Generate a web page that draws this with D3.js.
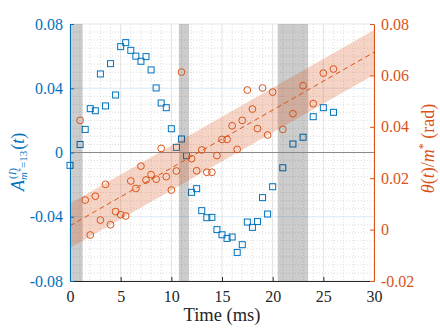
<!DOCTYPE html>
<html><head><meta charset="utf-8">
<script src="https://cdn.jsdelivr.net/npm/d3@7"></script>
<style>html,body{margin:0;padding:0;background:#fff}svg{display:block}</style>
</head><body>
<svg id="c" width="440" height="330"></svg>
<script>
// ---- data ----
const ampTime = [0,1,1.5,2,2.5,3,3.5,4,4.5,5,5.5,6,6.5,7,7.5,8,8.5,9,9.5,10,10.5,11,11.5,12,12.5,13,13.5,14,14.5,15,15.5,16,16.5,17,17.5,18,18.5,19,19.5,20,21,22,23,24,25,26];
const ampValue = [-0.008,0.005,0.0144,0.0273,0.026,0.0489,0.029,0.0553,0.0358,0.0659,0.0684,0.0636,0.060,0.0568,0.0597,0.0514,0.0402,0.0308,0.0279,0.0148,0.0032,0.0084,-0.002,-0.0248,-0.0225,-0.0362,-0.0406,-0.0404,-0.048,-0.0512,-0.0535,-0.0526,-0.0622,-0.0574,-0.0433,-0.0466,-0.043,-0.0281,-0.0383,-0.0213,-0.0095,0.0053,0.0095,0.0223,0.0279,0.025];
const thetaTime = [1,1.5,2,2.5,3,3.5,4,4.5,5,5.5,6,6.5,7,7.5,8,8.5,9,9.5,10,10.5,11,12,12.5,13,13.5,14,14.5,15,15.5,16,16.5,17,17.5,18,18.5,19,19.5,20,21,22,23,24,25,26];
const thetaValue = [0.0425,0.0115,-0.0021,0.013,0.0037,0.0176,0.0019,0.007,0.0058,0.0053,0.0189,0.016,0.0247,0.0193,0.0214,0.0196,0.0316,0.0206,0.0154,0.0228,0.0613,0.0276,0.0229,0.031,0.0223,0.0223,0.0288,0.0351,0.0351,0.0404,0.0312,0.0425,0.0543,0.0469,0.0393,0.0551,0.0368,0.0535,0.039,0.0451,0.056,0.049,0.0609,0.0625];
const fitTime = [0,30];
const fitValue = [0.0015,0.069];
const fitLower = [-0.0072,0.0603];
const fitUpper = [0.0102,0.0777];
const bandStart = [0,10.75,20.5];
const bandEnd = [1.25,11.75,23.5];
const xTicks = [0,5,10,15,20,25,30];
const leftTicks = [-0.08,-0.04,0,0.04,0.08];
const leftTickLabels = ["-0.08","-0.04","0","0.04","0.08"];
const rightTicks = [-0.02,0,0.02,0.04,0.06,0.08];
const rightTickLabels = ["-0.02","0","0.02","0.04","0.06","0.08"];

// ---- layout ----
const L=70, R=374, T=24, B=281;
const blue="#0072BD", orange="#D95319", dark="#262626";
const font="'Liberation Serif','Times New Roman',serif";
const svg=d3.select("#c");
const x=d3.scaleLinear().domain([0,30]).range([L,R]);
const yL=d3.scaleLinear().domain([-0.08,0.08]).range([B,T]);
const yR=d3.scaleLinear().domain([-0.02,0.08]).range([B,T]);

// minor grid
const g=svg.append("g");
g.selectAll(".mx").data(d3.range(1,30).filter(d=>d%5!==0)).enter().append("line")
 .attr("x1",d=>x(d)).attr("x2",d=>x(d)).attr("y1",T).attr("y2",B)
 .attr("stroke","#d4d4d4").attr("stroke-width",0.8).attr("stroke-dasharray","1,2");
g.selectAll(".my").data(d3.range(-15,16).map(i=>i*0.005).filter(d=>Math.abs(Math.round(d*1000))%40!==0)).enter().append("line")
 .attr("x1",L).attr("x2",R).attr("y1",d=>yL(d)).attr("y2",d=>yL(d))
 .attr("stroke","#d4d4d4").attr("stroke-width",0.8).attr("stroke-dasharray","1,2");
// major grid
g.selectAll(".gx").data(xTicks).enter().append("line")
 .attr("x1",d=>x(d)).attr("x2",d=>x(d)).attr("y1",T).attr("y2",B)
 .attr("stroke","#e2e2e2").attr("stroke-width",1);
g.selectAll(".gy").data(leftTicks).enter().append("line")
 .attr("x1",L).attr("x2",R).attr("y1",d=>yL(d)).attr("y2",d=>yL(d))
 .attr("stroke","#dbe9f5").attr("stroke-width",1);

// left series
const sq=6;
svg.append("g").selectAll("rect").data(ampTime).enter().append("rect")
 .attr("x",(d)=>x(d)-sq/2).attr("y",(d,i)=>yL(ampValue[i])-sq/2)
 .attr("width",sq).attr("height",sq).attr("fill","none").attr("stroke",blue).attr("stroke-width",1);

// gray bands
svg.append("g").selectAll("rect").data(bandStart).enter().append("rect")
 .attr("x",d=>x(d)).attr("width",(d,i)=>x(bandEnd[i])-x(d)).attr("y",T).attr("height",B-T)
 .attr("fill","#000").attr("fill-opacity",0.2);

// zero line
svg.append("line").attr("x1",L).attr("x2",R).attr("y1",yL(0)).attr("y2",yL(0))
 .attr("stroke","#8a8a8a").attr("stroke-width",1.2);

// right series: band, fit, circles
const clip=svg.append("clipPath").attr("id","pc").append("rect").attr("x",L).attr("y",T).attr("width",R-L).attr("height",B-T);
const area=d3.area().x((d,i)=>x(fitTime[i])).y0((d,i)=>yR(fitLower[i])).y1((d,i)=>yR(fitUpper[i]));
svg.append("path").datum(fitTime).attr("d",area).attr("fill",orange).attr("fill-opacity",0.25).attr("clip-path","url(#pc)");
const line=d3.line().x((d,i)=>x(fitTime[i])).y((d,i)=>yR(fitValue[i]));
svg.append("path").datum(fitTime).attr("d",line).attr("fill","none").attr("stroke",orange)
 .attr("stroke-width",1).attr("stroke-dasharray","5,3.5").attr("clip-path","url(#pc)");
svg.append("g").selectAll("circle").data(thetaTime).enter().append("circle")
 .attr("cx",d=>x(d)).attr("cy",(d,i)=>yR(thetaValue[i])).attr("r",3.4)
 .attr("fill","none").attr("stroke",orange).attr("stroke-width",1);

// axes
const ax=svg.append("g").attr("transform",`translate(0,${B})`)
 .call(d3.axisBottom(x).tickValues(xTicks).tickSizeInner(-4).tickSizeOuter(0).tickPadding(10).tickFormat(d3.format("d")));
ax.select(".domain").attr("stroke",dark);
ax.selectAll(".tick line").attr("stroke",dark);
ax.selectAll("text").attr("fill",dark).attr("font-family",font).attr("font-size",16);

const al=svg.append("g").attr("transform",`translate(${L},0)`)
 .call(d3.axisLeft(yL).tickValues(leftTicks).tickSizeInner(-4).tickSizeOuter(0).tickPadding(7).tickFormat((d,i)=>leftTickLabels[i]));
al.select(".domain").attr("stroke",blue);
al.selectAll(".tick line").attr("stroke",blue);
al.selectAll("text").attr("fill",blue).attr("font-family",font).attr("font-size",16);

const ar=svg.append("g").attr("transform",`translate(${R},0)`)
 .call(d3.axisRight(yR).tickValues(rightTicks).tickSizeInner(-4).tickSizeOuter(0).tickPadding(7).tickFormat((d,i)=>rightTickLabels[i]));
ar.select(".domain").attr("stroke",orange);
ar.selectAll(".tick line").attr("stroke",orange);
ar.selectAll("text").attr("fill",orange).attr("font-family",font).attr("font-size",16);

// labels
svg.append("text").attr("x",(L+R)/2).attr("y",321).attr("text-anchor","middle")
 .attr("font-family",font).attr("font-size",18.5).attr("fill",dark).text("Time (ms)");

const lt=svg.append("text").attr("transform","translate(24,191) rotate(-90)")
 .attr("font-family",font).attr("font-size",18).attr("fill",blue);
lt.append("tspan").attr("font-style","italic").text("A");
lt.append("tspan").attr("font-size",11).attr("dy",-8).attr("dx",1).text("(");
lt.append("tspan").attr("font-size",11).attr("font-style","italic").text("I");
lt.append("tspan").attr("font-size",11).text(")");
lt.append("tspan").attr("font-size",11).attr("dy",11).attr("dx",-12).attr("font-style","italic").text("m");
lt.append("tspan").attr("font-size",8).attr("dy",-3).text("*");
lt.append("tspan").attr("font-size",11).attr("dy",3).text("=13");
lt.append("tspan").attr("dy",-3).attr("dx",1).text("(");
lt.append("tspan").attr("font-style","italic").text("t");
lt.append("tspan").text(")");

const rt=svg.append("text").attr("transform","translate(434,148.5) rotate(-90)").attr("text-anchor","middle")
 .attr("font-family",font).attr("font-size",18).attr("fill",orange);
rt.append("tspan").attr("font-style","italic").text("θ");
rt.append("tspan").text("(");
rt.append("tspan").attr("font-style","italic").text("t");
rt.append("tspan").text(")/");
rt.append("tspan").attr("font-style","italic").text("m");
rt.append("tspan").attr("font-size",12).attr("dy",-7).text("*");
rt.append("tspan").attr("dy",7).text(" (rad)");
</script>
</body></html>
